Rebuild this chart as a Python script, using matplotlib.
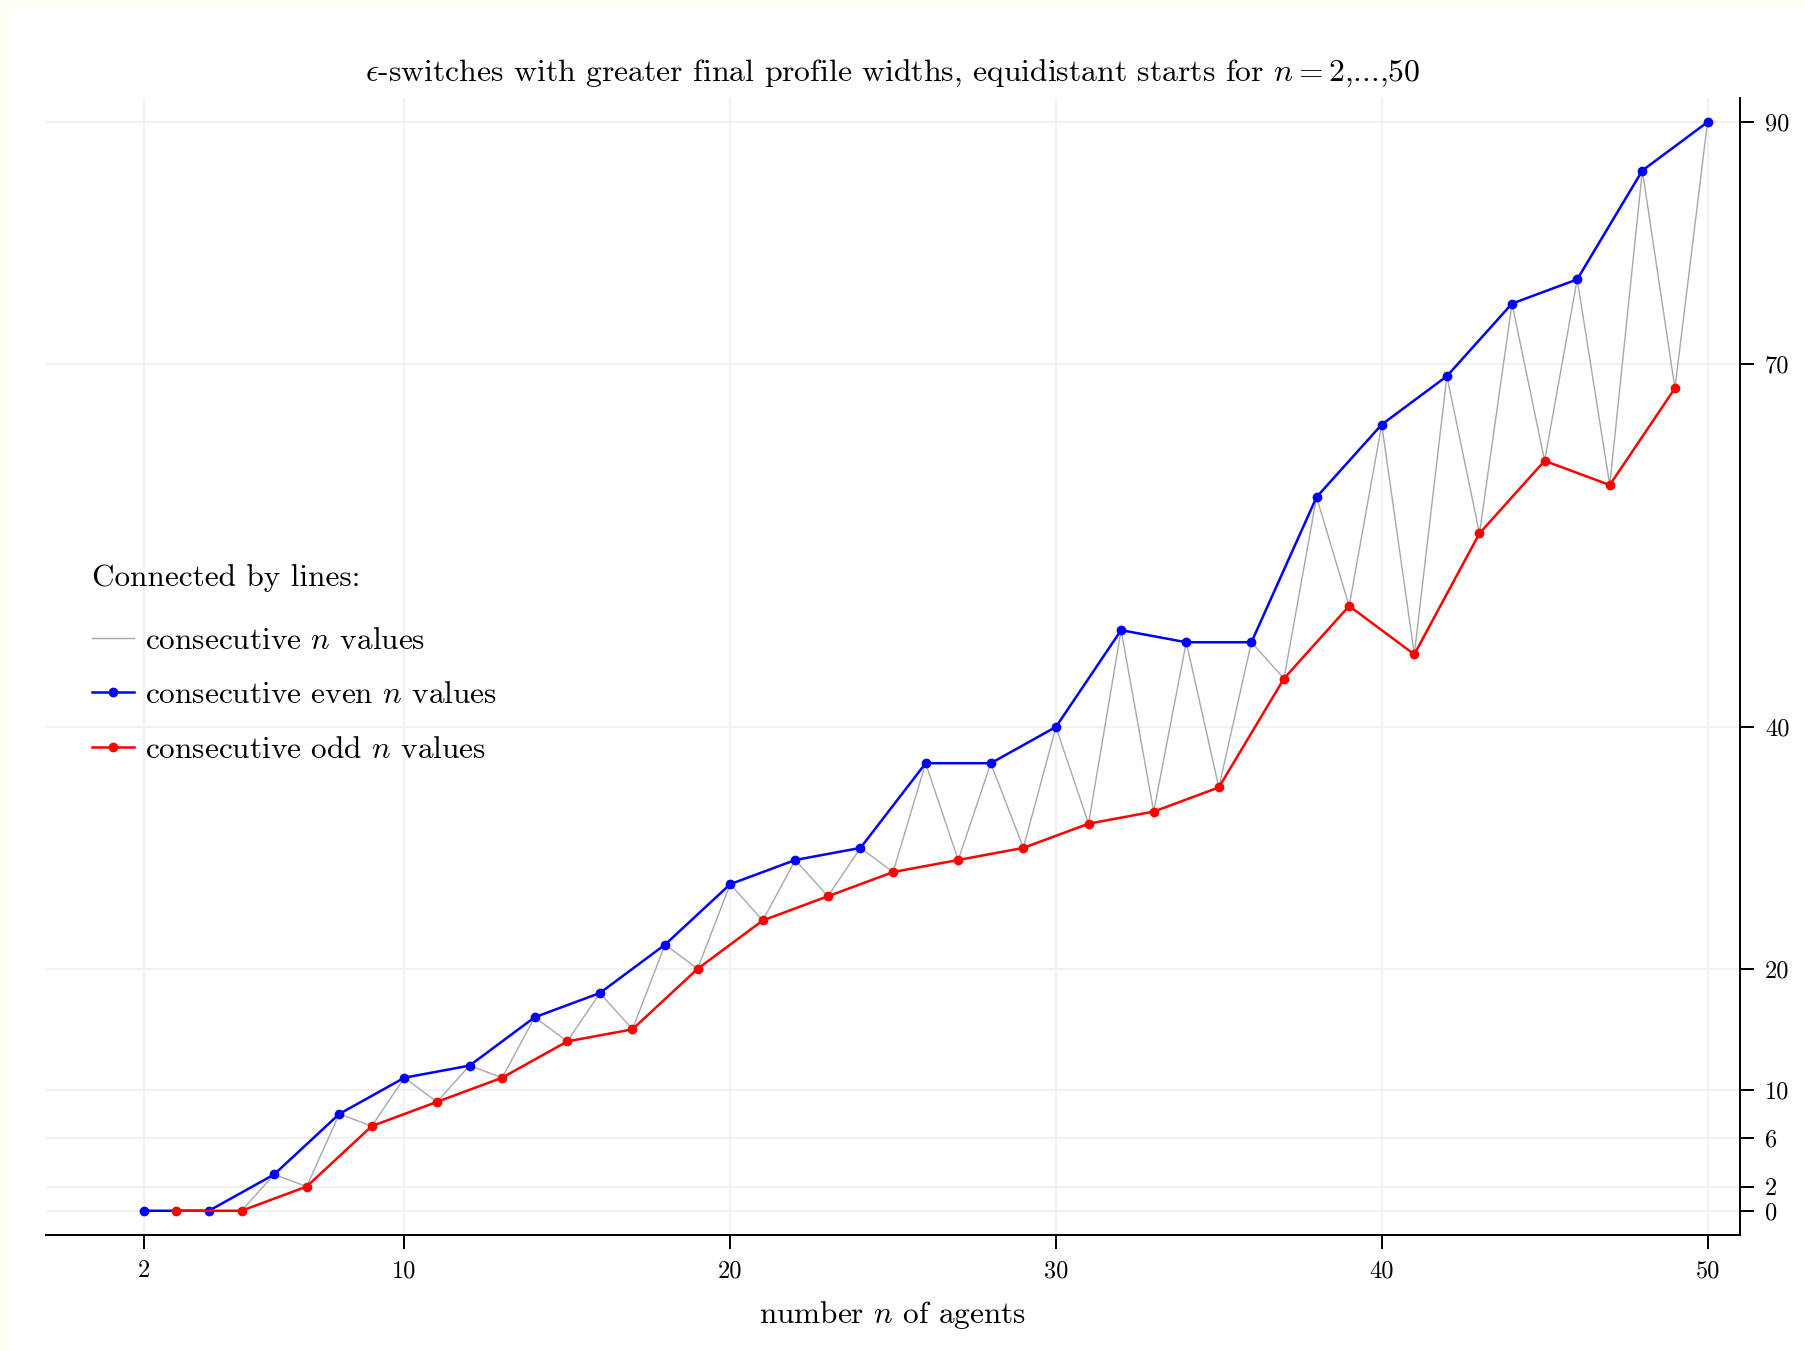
import matplotlib
matplotlib.use("Agg")
import matplotlib.pyplot as plt
from matplotlib.patches import Rectangle

plt.rcParams['font.family'] = ['cmr10', 'DejaVu Serif']
plt.rcParams['mathtext.fontset'] = 'cm'
plt.rcParams['axes.unicode_minus'] = False

# final profile widths, even n and odd n
n_even = [2, 4, 6, 8, 10, 12, 14, 16, 18, 20, 22, 24, 26, 28, 30, 32, 34, 36, 38, 40, 42, 44, 46, 48, 50]
w_even = [0, 0, 3, 8, 11, 12, 16, 18, 22, 27, 29, 30, 37, 37, 40, 48, 47, 47, 59, 65, 69, 75, 77, 86, 90]
n_odd = [3, 5, 7, 9, 11, 13, 15, 17, 19, 21, 23, 25, 27, 29, 31, 33, 35, 37, 39, 41, 43, 45, 47, 49]
w_odd = [0, 0, 2, 7, 9, 11, 14, 15, 20, 24, 26, 28, 29, 30, 32, 33, 35, 44, 50, 46, 56, 62, 60, 68]

x_ticks = [2, 10, 20, 30, 40, 50]
y_ticks = [0, 2, 6, 10, 20, 40, 70, 90]

# all n in order, for the zig-zag between neighbours
pairs = sorted(zip(n_even + n_odd, w_even + w_odd))
n_all = [p[0] for p in pairs]
w_all = [p[1] for p in pairs]

fig = plt.figure(figsize=(18.06, 13.51), dpi=100, facecolor='#fffff3')
fig.patches.append(Rectangle((10 / 1806, 0), 1, 1 - 8 / 1351, transform=fig.transFigure,
                             facecolor='white', edgecolor='none', zorder=-10))

ax = fig.add_axes([0.0255, 0.0859, 0.9380, 0.8416])
ax.set_facecolor('white')

ax.plot(n_all, w_all, color='#a8a8a8', lw=1.0, zorder=2, label='consecutive $n$ values')
ax.plot(n_even, w_even, color='#0000ff', lw=1.8, marker='o', ms=6, zorder=3,
        label='consecutive even $n$ values')
ax.plot(n_odd, w_odd, color='#ff0000', lw=1.8, marker='o', ms=6, zorder=3,
        label='consecutive odd $n$ values')

ax.set_xlim(-1, 51)
ax.set_ylim(-2, 92)
ax.set_xticks(x_ticks)
ax.set_yticks(y_ticks)
ax.yaxis.tick_right()
ax.grid(True, color='#efefef', lw=1.2, zorder=0)
ax.set_axisbelow(True)
for s in ['left', 'top']:
    ax.spines[s].set_visible(False)
for s in ['bottom', 'right']:
    ax.spines[s].set_linewidth(1.4)
ax.tick_params(axis='both', length=10, width=1.4, labelsize=17.5, colors='black')
ax.tick_params(axis='x', pad=8)
ax.tick_params(axis='y', pad=8)

ax.set_title(r'$\epsilon$-switches with greater final profile widths, equidistant starts for $n = 2$,...,50',
             fontsize=22.8, pad=12)
ax.set_xlabel(r'number $n$ of agents', fontsize=22.5, labelpad=12)

ax.text(0.0272, 0.578, 'Connected by lines:', transform=ax.transAxes, fontsize=22.5, va='center', ha='left')
ax.legend(loc='upper left', bbox_to_anchor=(0.0272, 0.535), frameon=False, fontsize=22.5,
          handlelength=1.35, handletextpad=0.35, labelspacing=0.85, borderpad=0, borderaxespad=0)

fig.savefig('out.png', dpi=100, facecolor=fig.get_facecolor())
